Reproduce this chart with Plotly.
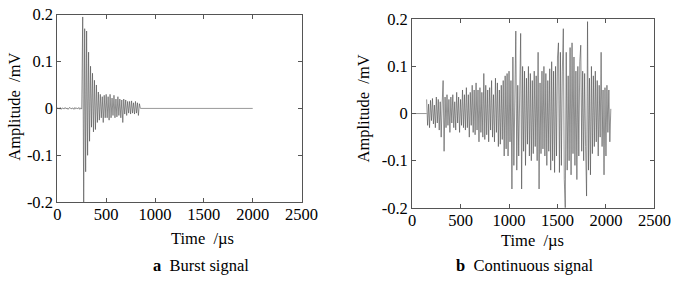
import plotly.graph_objects as go

# ---- data ----
burst_start = 0      # µs, first sample of burst record
burst_step = 10      # µs between samples
burst_values = [
    0.002, 0.001, -0.001, 0.002, -0.002, 0.001, 0.0, -0.001, 0.002, -0.001,
    0.001, -0.002, 0.001, 0.002, -0.001, 0.0, 0.001, -0.002, 0.002, -0.001,
    0.001, -0.001, 0.002, -0.002, 0.001, -0.001,
    0.195, -0.2, 0.17, -0.135, 0.165, -0.10, 0.12, -0.07, 0.09, -0.04,
    0.075, -0.05, 0.06, -0.045, 0.05, -0.03, 0.035, -0.025, 0.03, -0.02,
    0.025, -0.03, 0.028, -0.02, 0.03, -0.02, 0.025, -0.025, 0.03, -0.02,
    0.022, -0.015, 0.028, -0.02, 0.02, -0.018, 0.025, -0.015, 0.02, -0.02,
    0.018, -0.03, 0.02, -0.012, 0.018, -0.015, 0.015, -0.01, 0.015, -0.012,
    0.016, -0.01, 0.012, -0.012, 0.015, -0.01, 0.012, -0.015, 0.01, 0.0,
]
burst_tail_t = [850, 2000]
burst_tail_v = [0.0, 0.0]

cont_lead_t = [0, 150]
cont_lead_v = [0.0, 0.0]
cont_start = 150
cont_step = 10
cont_values = [
    0.03, -0.025, 0.02, -0.03, 0.028, -0.015, 0.032, -0.022, 0.018, -0.03,
    0.035, -0.02, 0.03, -0.035, 0.025, -0.05, 0.02, 0.07, -0.08, 0.035,
    -0.03, 0.04, -0.025, 0.03, -0.04, 0.035, -0.02, 0.04, -0.03, 0.025,
    -0.035, 0.045, -0.02, 0.035, -0.04, 0.03, -0.025, 0.05, -0.03, 0.04,
    -0.035, 0.055, -0.03, 0.04, -0.05, 0.045, -0.025, 0.06, -0.04, 0.05,
    -0.045, 0.065, -0.035, 0.05, -0.06, 0.055, -0.04, 0.045, -0.05, 0.085,
    -0.055, 0.06, -0.045, 0.05, -0.06, 0.055, -0.035, 0.07, -0.05, 0.04,
    -0.06, 0.075, -0.04, 0.065, -0.07, 0.05, -0.065, 0.06, -0.055, 0.07,
    -0.09, 0.08, -0.075, 0.085, -0.09, 0.09, -0.06, 0.07, -0.16, 0.12,
    -0.11, 0.09, 0.175, -0.12, 0.06, -0.09, 0.11, 0.17, -0.16, 0.1,
    -0.08, 0.09, -0.11, 0.075, -0.065, 0.1, -0.09, 0.085, -0.1, 0.07,
    -0.085, 0.09, -0.07, 0.08, -0.1, 0.13, -0.16, 0.065, -0.085, 0.09,
    -0.075, 0.1, -0.09, 0.085, -0.11, 0.07, -0.08, 0.095, -0.12, 0.11,
    -0.1, 0.09, -0.125, 0.1, -0.09, 0.12, 0.15, -0.125, 0.13, -0.11,
    0.09, 0.18, -0.14, -0.2, 0.13, -0.12, 0.08, -0.1, 0.14, -0.13,
    0.15, -0.085, 0.12, -0.11, 0.09, -0.14, 0.1, -0.09, 0.11, 0.145,
    -0.08, 0.09, -0.1, 0.085, -0.07, -0.175, 0.195, -0.12, 0.075, -0.13,
    0.1, -0.085, 0.08, -0.07, 0.09, -0.06, 0.07, -0.09, 0.06, -0.05,
    0.13, -0.07, 0.05, -0.13, 0.055, -0.09, 0.06, -0.04, 0.05, -0.06, 0.01,
]

x_ticks = [0, 500, 1000, 1500, 2000, 2500]
y_ticks = [-0.2, -0.1, 0, 0.1, 0.2]
y_tick_text = ["-0.2", "-0.1", "0", "0.1", "0.2"]

FONT = "Liberation Serif, Times New Roman, serif"
FS = 16.5
LINE = "#4a4a4a"
AX = "#555555"

fig = go.Figure()
fig.add_trace(go.Scatter(y=burst_values, x0=burst_start, dx=burst_step, mode="lines",
                         line=dict(color=LINE, width=0.6), xaxis="x", yaxis="y"))
fig.add_trace(go.Scatter(x=burst_tail_t, y=burst_tail_v, mode="lines",
                         line=dict(color="#999999", width=1), xaxis="x", yaxis="y"))
fig.add_trace(go.Scatter(x=cont_lead_t, y=cont_lead_v, mode="lines",
                         line=dict(color="#999999", width=1), xaxis="x2", yaxis="y2"))
fig.add_trace(go.Scatter(y=cont_values, x0=cont_start, dx=cont_step, mode="lines",
                         line=dict(color=LINE, width=0.6), xaxis="x2", yaxis="y2"))

def xax(domain, anchor):
    return dict(domain=domain, anchor=anchor, range=[0, 2500], tickvals=x_ticks,
                ticks="inside", ticklen=4, tickcolor=AX, showline=True, mirror="ticks",
                linecolor=AX, linewidth=1, showgrid=False, zeroline=False,
                ticklabelstandoff=-3,
                tickfont=dict(family=FONT, size=FS, color="black"))

def yax(domain, anchor):
    return dict(domain=domain, anchor=anchor, range=[-0.2, 0.2], tickvals=y_ticks,
                ticktext=y_tick_text, ticks="inside", ticklen=4, tickcolor=AX,
                showline=True, mirror="ticks", linecolor=AX, linewidth=1,
                showgrid=False, zeroline=False,
                tickfont=dict(family=FONT, size=FS, color="black"))

W, H = 685, 286
fig.update_layout(
    width=W, height=H, margin=dict(l=0, r=0, t=0, b=0),
    paper_bgcolor="white", plot_bgcolor="white", showlegend=False,
    xaxis=xax([55 / W, 307 / W], "y"),
    yaxis=yax([1 - 207 / H, 1 - 6 / H], "x"),
    xaxis2=xax([421 / W, 671 / W], "y2"),
    yaxis2=yax([1 - 213 / H, 1 - 11 / H], "x2"),
)

ann_font = dict(family=FONT, size=FS, color="black")
anns = [
    dict(x=205 / W, y=1 - 246 / H, text="Time\u00a0\u00a0/\u00b5s"),
    dict(x=545 / W, y=1 - 248 / H, text="Time\u00a0\u00a0/\u00b5s"),
    dict(x=203 / W, y=1 - 275 / H, text="<b>a</b>\u00a0\u00a0Burst signal"),
    dict(x=537 / W, y=1 - 275 / H, text="<b>b</b>\u00a0\u00a0Continuous signal"),
    dict(x=10 / W, y=1 - 105 / H, text="Amplitude\u00a0\u00a0/mV", textangle=-90),
    dict(x=371 / W, y=1 - 107 / H, text="Amplitude\u00a0\u00a0/mV", textangle=-90),
]
for a in anns:
    fig.add_annotation(xref="paper", yref="paper", showarrow=False,
                       xanchor="center", yanchor="middle", font=ann_font, **a)

fig.write_html("out.html", config={"displayModeBar": False},
               post_script="document.body.style.margin='0';document.body.style.overflow='hidden';")
